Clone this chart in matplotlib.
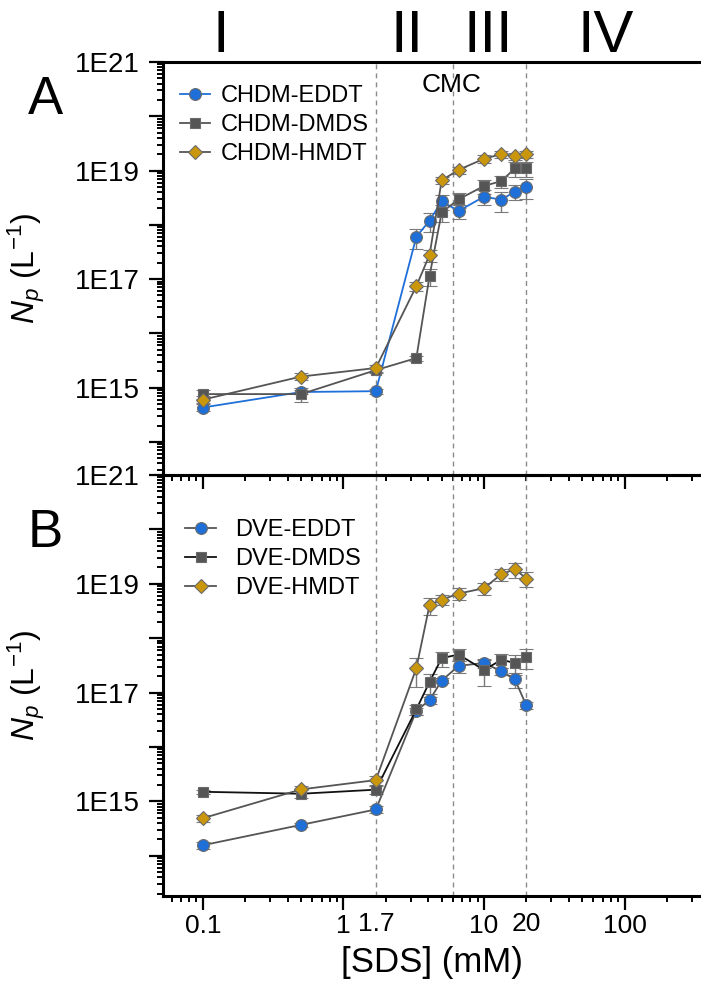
import numpy as np
import matplotlib
matplotlib.use('Agg')
import matplotlib.pyplot as plt
from matplotlib.ticker import LogLocator, FuncFormatter, FixedLocator, FixedFormatter, NullFormatter
import matplotlib.transforms as mtransforms

plt.rcParams['font.family'] = ['Liberation Sans', 'DejaVu Sans']
plt.rcParams['mathtext.fontset'] = 'custom'
plt.rcParams['mathtext.rm'] = 'Liberation Sans'
plt.rcParams['mathtext.it'] = 'Liberation Sans:italic'

# SDS concentrations (mM)
sds = [0.1, 0.5, 1.7, 3.3, 4.1, 5.0, 6.6, 10.0, 13.3, 16.6, 20.0]

# panel A: CHDM series, particle number (L^-1)
chdm_eddt = [4.3e14, 8.3e14, 8.6e14, 6.0e17, 1.2e18, 2.7e18, 1.8e18, 3.3e18, 2.9e18, 4.1e18, 5.0e18]
chdm_dmds = [7.6e14, 7.6e14, 2.1e15, 3.5e15, 1.15e17, 1.7e18, 2.95e18, 5.2e18, 6.4e18, 1.1e19, 1.1e19]
chdm_hmdt = [6.0e14, 1.6e15, 2.3e15, 7.4e16, 2.8e17, 6.6e18, 1.03e19, 1.65e19, 2.0e19, 1.85e19, 2.0e19]
chdm_eddt_err = [0.15, 0.1, 0.1, 0.4, 0.38, 0.3, 0.3, 0.3, 0.4, 0.3, 0.4]
chdm_dmds_err = [0.2, 0.3, 0.1, 0.1, 0.35, 0.35, 0.3, 0.3, 0.25, 0.3, 0.3]
chdm_hmdt_err = [0.15, 0.15, 0.15, 0.2, 0.25, 0.15, 0.15, 0.15, 0.15, 0.15, 0.15]
labels_a = ['CHDM-EDDT', 'CHDM-DMDS', 'CHDM-HMDT']

# panel B: DVE series
dve_eddt = [1.56e14, 3.7e14, 7.1e14, 4.6e16, 7.3e16, 1.66e17, 3.1e17, 3.5e17, 2.46e17, 1.74e17, 5.8e16]
dve_dmds = [1.5e15, 1.38e15, 1.64e15, 4.9e16, 1.57e17, 4.3e17, 5.0e17, 2.6e17, 4.0e17, 3.5e17, 4.5e17]
dve_hmdt = [4.9e14, 1.66e15, 2.46e15, 2.8e17, 4.1e18, 5.1e18, 6.6e18, 8.3e18, 1.5e19, 1.86e19, 1.25e19]
dve_eddt_err = [0.15, 0.1, 0.15, 0.15, 0.15, 0.1, 0.25, 0.2, 0.15, 0.3, 0.15]
dve_dmds_err = [0.1, 0.15, 0.15, 0.2, 0.4, 0.3, 0.25, 0.5, 0.3, 0.4, 0.4]
dve_hmdt_err = [0.15, 0.15, 0.2, 0.55, 0.35, 0.2, 0.25, 0.25, 0.25, 0.3, 0.3]
labels_b = ['DVE-EDDT', 'DVE-DMDS', 'DVE-HMDT']

# region boundaries (mM)
boundaries = [1.7, 6.0, 20.0]
regions = ['I', 'II', 'III', 'IV']
region_x = [0.135, 2.85, 10.7, 74.0]

blue = '#1f6fd8'
gray = '#555555'
gold = '#c9960c'
edge = '#6a6a6a'
errc = '#7a7a7a'

fig = plt.figure(figsize=(7.01, 9.91), dpi=100)
axA = fig.add_axes([163/701, 1-475/991, 1-163/701, (475-62)/991])
axB = fig.add_axes([163/701, 1-896/991, 1-163/701, (896-475)/991])
axB.patch.set_alpha(0)


def draw(ax, x, y, err, color, marker, ms, lc):
    y = np.array(y)
    c = ax.errorbar(x, y, yerr=np.array(err) * y, color=lc, lw=1.3,
                    marker=marker, ms=ms, mfc=color, mec=edge, mew=0.8,
                    ecolor=errc, elinewidth=1.0, capsize=5, capthick=1.0)
    return c[0]


hA = [draw(axA, sds, chdm_eddt, chdm_eddt_err, blue, 'o', 8.5, blue),
      draw(axA, sds, chdm_dmds, chdm_dmds_err, gray, 's', 7.2, gray),
      draw(axA, sds, chdm_hmdt, chdm_hmdt_err, gold, 'D', 7.2, gray)]

hB = [draw(axB, sds, dve_eddt, dve_eddt_err, blue, 'o', 8.5, gray),
      draw(axB, sds, dve_dmds, dve_dmds_err, gray, 's', 7.2, '#111111'),
      draw(axB, sds, dve_hmdt, dve_hmdt_err, gold, 'D', 7.2, gray)]

ylims = [(10**13.39, 1e21), (10**13.26, 1e21)]
for ax, yl in zip([axA, axB], ylims):
    ax.set_xscale('log')
    ax.set_yscale('log')
    ax.set_xlim(0.052, 350)
    ax.set_ylim(*yl)
    for b in boundaries:
        ax.axvline(b, color='#8a8a8a', lw=1.0, ls=(0, (3.5, 3)), zorder=0)
    ax.spines['right'].set_visible(False)
    for s in ['left', 'top', 'bottom']:
        ax.spines[s].set_linewidth(2.2)
    ax.yaxis.set_major_locator(LogLocator(base=10, subs=(1.0,), numticks=40))
    ax.yaxis.set_minor_locator(LogLocator(base=10, subs=np.arange(2, 10), numticks=40))
    ax.yaxis.set_major_formatter(FuncFormatter(
        lambda v, p: '1E%d' % round(np.log10(v)) if round(np.log10(v)) % 2 == 1 else ''))
    ax.yaxis.set_minor_formatter(NullFormatter())
    ax.xaxis.set_major_locator(FixedLocator([0.1, 1, 10, 100]))
    ax.xaxis.set_minor_locator(LogLocator(base=10, subs=np.arange(2, 10), numticks=40))
    ax.xaxis.set_minor_formatter(NullFormatter())
    ax.tick_params(which='major', direction='out', length=10, width=1.6, labelsize=20, pad=5)
    ax.tick_params(which='minor', direction='out', length=4.5, width=1.4)
    ax.tick_params(axis='y', which='major', pad=7)
    ax.set_ylabel(r'$N_p$ (L$^{-1}$)', fontsize=23)
    ax.yaxis.set_label_coords(-0.215, 0.5)

axA.xaxis.set_major_formatter(NullFormatter())
axB.xaxis.set_major_formatter(FixedFormatter(['0.1', '1', '10', '100']))
axB.tick_params(axis='x', labelsize=19, pad=3)
trans = mtransforms.blended_transform_factory(axB.transData, axB.transAxes)
for v, t in [(1.7, '1.7'), (20, '20')]:
    axB.text(v, -0.037, t, transform=trans, ha='center', va='top', fontsize=19)
axB.set_xlabel('[SDS] (mM)', fontsize=25, labelpad=6)

axA.legend(hA, labels_a, loc='upper left', bbox_to_anchor=(0.0, 0.984), frameon=False,
           fontsize=17, handlelength=1.3, handletextpad=0.45,
           labelspacing=0.3, borderaxespad=0.3)
axB.legend(hB, labels_b, loc='upper left', bbox_to_anchor=(0.011, 0.935), frameon=False,
           fontsize=17, handlelength=1.3, handletextpad=0.8,
           labelspacing=0.3, borderaxespad=0.3)

transA = mtransforms.blended_transform_factory(axA.transData, fig.transFigure)
for x, r in zip(region_x, regions):
    axA.text(x, 1-37/991, r, transform=transA, ha='center', va='center',
             fontsize=43, clip_on=False)
fig.text(452/701, 1-85/991, 'CMC', ha='center', va='center', fontsize=19)
fig.text(45/701, 1-100/991, 'A', ha='center', va='center', fontsize=38)
fig.text(45/701, 1-533/991, 'B', ha='center', va='center', fontsize=38)

fig.savefig('out.png', dpi=100)
